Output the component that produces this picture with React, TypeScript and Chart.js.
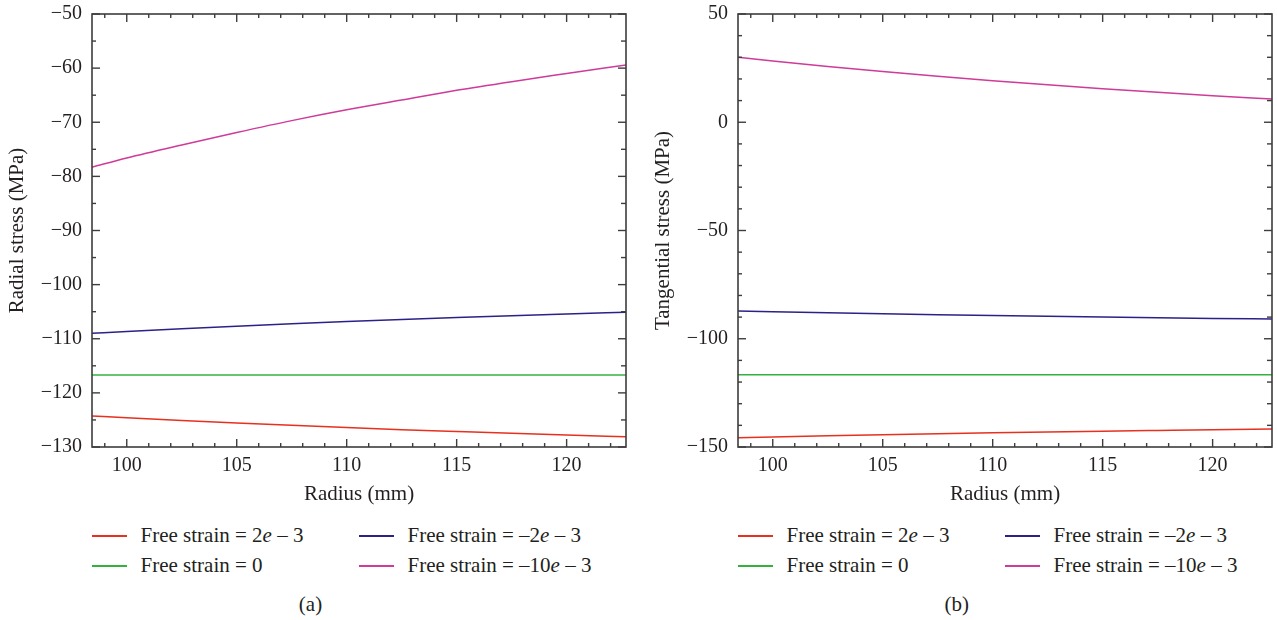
import React, { useEffect, useRef } from "react";
import { Chart, registerables } from "chart.js";

Chart.register(...registerables);

// ---------- data ----------
const radius = [98.42, 100, 102.5, 105, 107.5, 110, 112.5, 115, 117.5, 120, 122.7];

const radialStrain2 = [-124.25, -124.6, -125.1, -125.57, -126.0, -126.41, -126.79, -127.14, -127.48, -127.79, -128.1];
const radialStrain0 = [-116.7, -116.7, -116.7, -116.7, -116.7, -116.7, -116.7, -116.7, -116.7, -116.7, -116.7];
const radialStrainM2 = [-109.0, -108.65, -108.14, -107.67, -107.22, -106.81, -106.43, -106.07, -105.73, -105.42, -105.1];
const radialStrainM10 = [-78.3, -76.6, -74.2, -71.9, -69.7, -67.7, -65.9, -64.1, -62.5, -61.0, -59.4];

const tangStrain2 = [-145.7, -145.34, -144.82, -144.33, -143.88, -143.46, -143.06, -142.69, -142.35, -142.02, -141.7];
const tangStrain0 = [-116.6, -116.6, -116.6, -116.6, -116.6, -116.6, -116.6, -116.6, -116.6, -116.6, -116.6];
const tangStrainM2 = [-87.2, -87.53, -88.01, -88.46, -88.88, -89.27, -89.64, -89.98, -90.3, -90.6, -90.9];
const tangStrainM10 = [30.0, 28.28, 25.76, 23.41, 21.23, 19.19, 17.29, 15.51, 13.84, 12.28, 10.7];

const xMin = 98.42;
const xMax = 122.7;
const xMajorTicks = [100, 105, 110, 115, 120];
const xMinorTicks = [99, 101, 102, 103, 104, 106, 107, 108, 109, 111, 112, 113, 114, 116, 117, 118, 119, 121, 122];

const radialYMajor = [-130, -120, -110, -100, -90, -80, -70, -60, -50];
const radialYMinor = [-125, -115, -105, -95, -85, -75, -65, -55];
const tangYMajor = [-150, -100, -50, 0, 50];
const tangYMinor = [-140, -130, -120, -110, -90, -80, -70, -60, -40, -30, -20, -10, 10, 20, 30, 40];

const seriesLabels = ["2e", "0", "–2e", "–10e"];
const seriesColors = ["#e8301f", "#33b23e", "#2c2189", "#cf3b98"];

const FONT = "'Liberation Serif', 'Times New Roman', serif";
const TEXT = "#231f20";

function fmt(v: number) {
  return v < 0 ? "\u2212" + Math.abs(v) : String(v);
}

type Props = {
  left: number;
  values: number[][];
  yMin: number;
  yMax: number;
  yMajor: number[];
  yMinor: number[];
  yTitle: string;
};

function StressChart({ left, values, yMin, yMax, yMajor, yMinor, yTitle }: Props) {
  const ref = useRef<HTMLCanvasElement>(null);
  useEffect(() => {
    const framePlugin = {
      id: "frame",
      afterDatasetsDraw(chart: any) {
        const { ctx, chartArea: a, scales } = chart;
        const xs = scales.x;
        const ys = scales.y;
        ctx.save();
        ctx.strokeStyle = "#3d3d3d";
        const seg = (x1: number, y1: number, x2: number, y2: number) => {
          ctx.beginPath();
          ctx.moveTo(x1, y1);
          ctx.lineTo(x2, y2);
          ctx.stroke();
        };
        ctx.lineWidth = 1.4;
        xMajorTicks.forEach((v) => {
          const p = xs.getPixelForValue(v);
          seg(p, a.bottom, p, a.bottom - 8);
          seg(p, a.top, p, a.top + 8);
        });
        xMinorTicks.forEach((v) => {
          const p = xs.getPixelForValue(v);
          seg(p, a.bottom, p, a.bottom - 4);
          seg(p, a.top, p, a.top + 4);
        });
        yMajor.forEach((v) => {
          const p = ys.getPixelForValue(v);
          seg(a.left, p, a.left + 8, p);
          seg(a.right, p, a.right - 8, p);
        });
        yMinor.forEach((v) => {
          const p = ys.getPixelForValue(v);
          seg(a.left, p, a.left + 4, p);
          seg(a.right, p, a.right - 5, p);
        });
        ctx.lineWidth = 1.6;
        ctx.strokeRect(a.left, a.top, a.right - a.left, a.bottom - a.top);
        ctx.restore();
      },
    };

    const chart = new Chart(ref.current as HTMLCanvasElement, {
      type: "line",
      data: {
        datasets: values.map((vals, i) => ({
          label: seriesLabels[i],
          data: radius.map((r, j) => ({ x: r, y: vals[j] })),
          borderColor: seriesColors[i],
          backgroundColor: seriesColors[i],
          borderWidth: 1.5,
          pointRadius: 0,
          cubicInterpolationMode: "monotone" as const,
          fill: false,
        })),
      },
      options: {
        responsive: false,
        animation: false,
        layout: { padding: { left: 0, top: 14, right: 14, bottom: 3 } },
        plugins: { legend: { display: false }, tooltip: { enabled: false } },
        scales: {
          x: {
            type: "linear",
            min: xMin,
            max: xMax,
            afterBuildTicks: (s: any) => {
              s.ticks = xMajorTicks.map((v) => ({ value: v }));
            },
            afterFit: (s: any) => {
              s.height = 60;
              s.paddingLeft = 0;
              s.paddingRight = 0;
            },
            grid: { display: false, drawTicks: false },
            border: { display: false },
            ticks: {
              padding: 7,
              autoSkip: false,
              maxRotation: 0,
              color: TEXT,
              font: { family: FONT, size: 20 },
              callback: (v: any) => fmt(Number(v)),
            },
            title: {
              display: true,
              text: "Radius (mm)",
              color: TEXT,
              font: { family: FONT, size: 21 },
              padding: { top: 0, bottom: 0 },
            },
          },
          y: {
            type: "linear",
            min: yMin,
            max: yMax,
            afterBuildTicks: (s: any) => {
              s.ticks = yMajor.map((v) => ({ value: v }));
            },
            afterFit: (s: any) => {
              s.width = 92;
              s.paddingTop = 0;
              s.paddingBottom = 0;
            },
            grid: { display: false, drawTicks: false },
            border: { display: false },
            ticks: {
              padding: 10,
              autoSkip: false,
              color: TEXT,
              font: { family: FONT, size: 20 },
              callback: (v: any) => fmt(Number(v)),
            },
            title: {
              display: true,
              text: yTitle,
              color: TEXT,
              font: { family: FONT, size: 21 },
              padding: { top: 5, bottom: 0 },
            },
          },
        },
      },
      plugins: [framePlugin],
    });
    return () => chart.destroy();
  }, []);
  return (
    <canvas
      ref={ref}
      width={640}
      height={510}
      style={{ position: "absolute", left, top: 0, width: 640, height: 510 }}
    />
  );
}

function Legend({ plotLeft, caption }: { plotLeft: number; caption: string }) {
  const rows = [535, 565];
  const items = [
    { col: 0, row: 0, color: seriesColors[0], text: <>Free strain = 2<i>e</i> – 3</> },
    { col: 1, row: 0, color: seriesColors[2], text: <>Free strain = –2<i>e</i> – 3</> },
    { col: 0, row: 1, color: seriesColors[1], text: <>Free strain = 0</> },
    { col: 1, row: 1, color: seriesColors[3], text: <>Free strain = –10<i>e</i> – 3</> },
  ];
  const textStyle: React.CSSProperties = {
    position: "absolute",
    fontFamily: FONT,
    fontSize: 21,
    lineHeight: "24px",
    color: TEXT,
    whiteSpace: "nowrap",
  };
  return (
    <>
      {items.map((it, k) => {
        const lx = Math.round(plotLeft + (it.col === 0 ? 0 : 266.6));
        const cy = rows[it.row];
        return (
          <React.Fragment key={k}>
            <div
              style={{
                position: "absolute",
                left: lx,
                top: cy,
                width: 35,
                height: 2,
                background: it.color,
              }}
            />
            <div style={{ ...textStyle, left: lx + 48.5, top: cy - 12 }}>{it.text}</div>
          </React.Fragment>
        );
      })}
      <div
        style={{
          ...textStyle,
          left: plotLeft + 218.5 - 40,
          width: 80,
          textAlign: "center",
          top: 604.7 - 12.5,
        }}
      >
        {caption}
      </div>
    </>
  );
}

export default function App() {
  return (
    <div
      style={{
        position: "absolute",
        left: 0,
        top: 0,
        width: 1277,
        height: 620,
        overflow: "hidden",
        background: "#ffffff",
      }}
    >
      <StressChart
        left={0}
        values={[radialStrain2, radialStrain0, radialStrainM2, radialStrainM10]}
        yMin={-130}
        yMax={-50}
        yMajor={radialYMajor}
        yMinor={radialYMinor}
        yTitle="Radial stress (MPa)"
      />
      <StressChart
        left={646.3}
        values={[tangStrain2, tangStrain0, tangStrainM2, tangStrainM10]}
        yMin={-150}
        yMax={50}
        yMajor={tangYMajor}
        yMinor={tangYMinor}
        yTitle="Tangential stress (MPa)"
      />
      <Legend plotLeft={92} caption="(a)" />
      <Legend plotLeft={738.3} caption="(b)" />
    </div>
  );
}
